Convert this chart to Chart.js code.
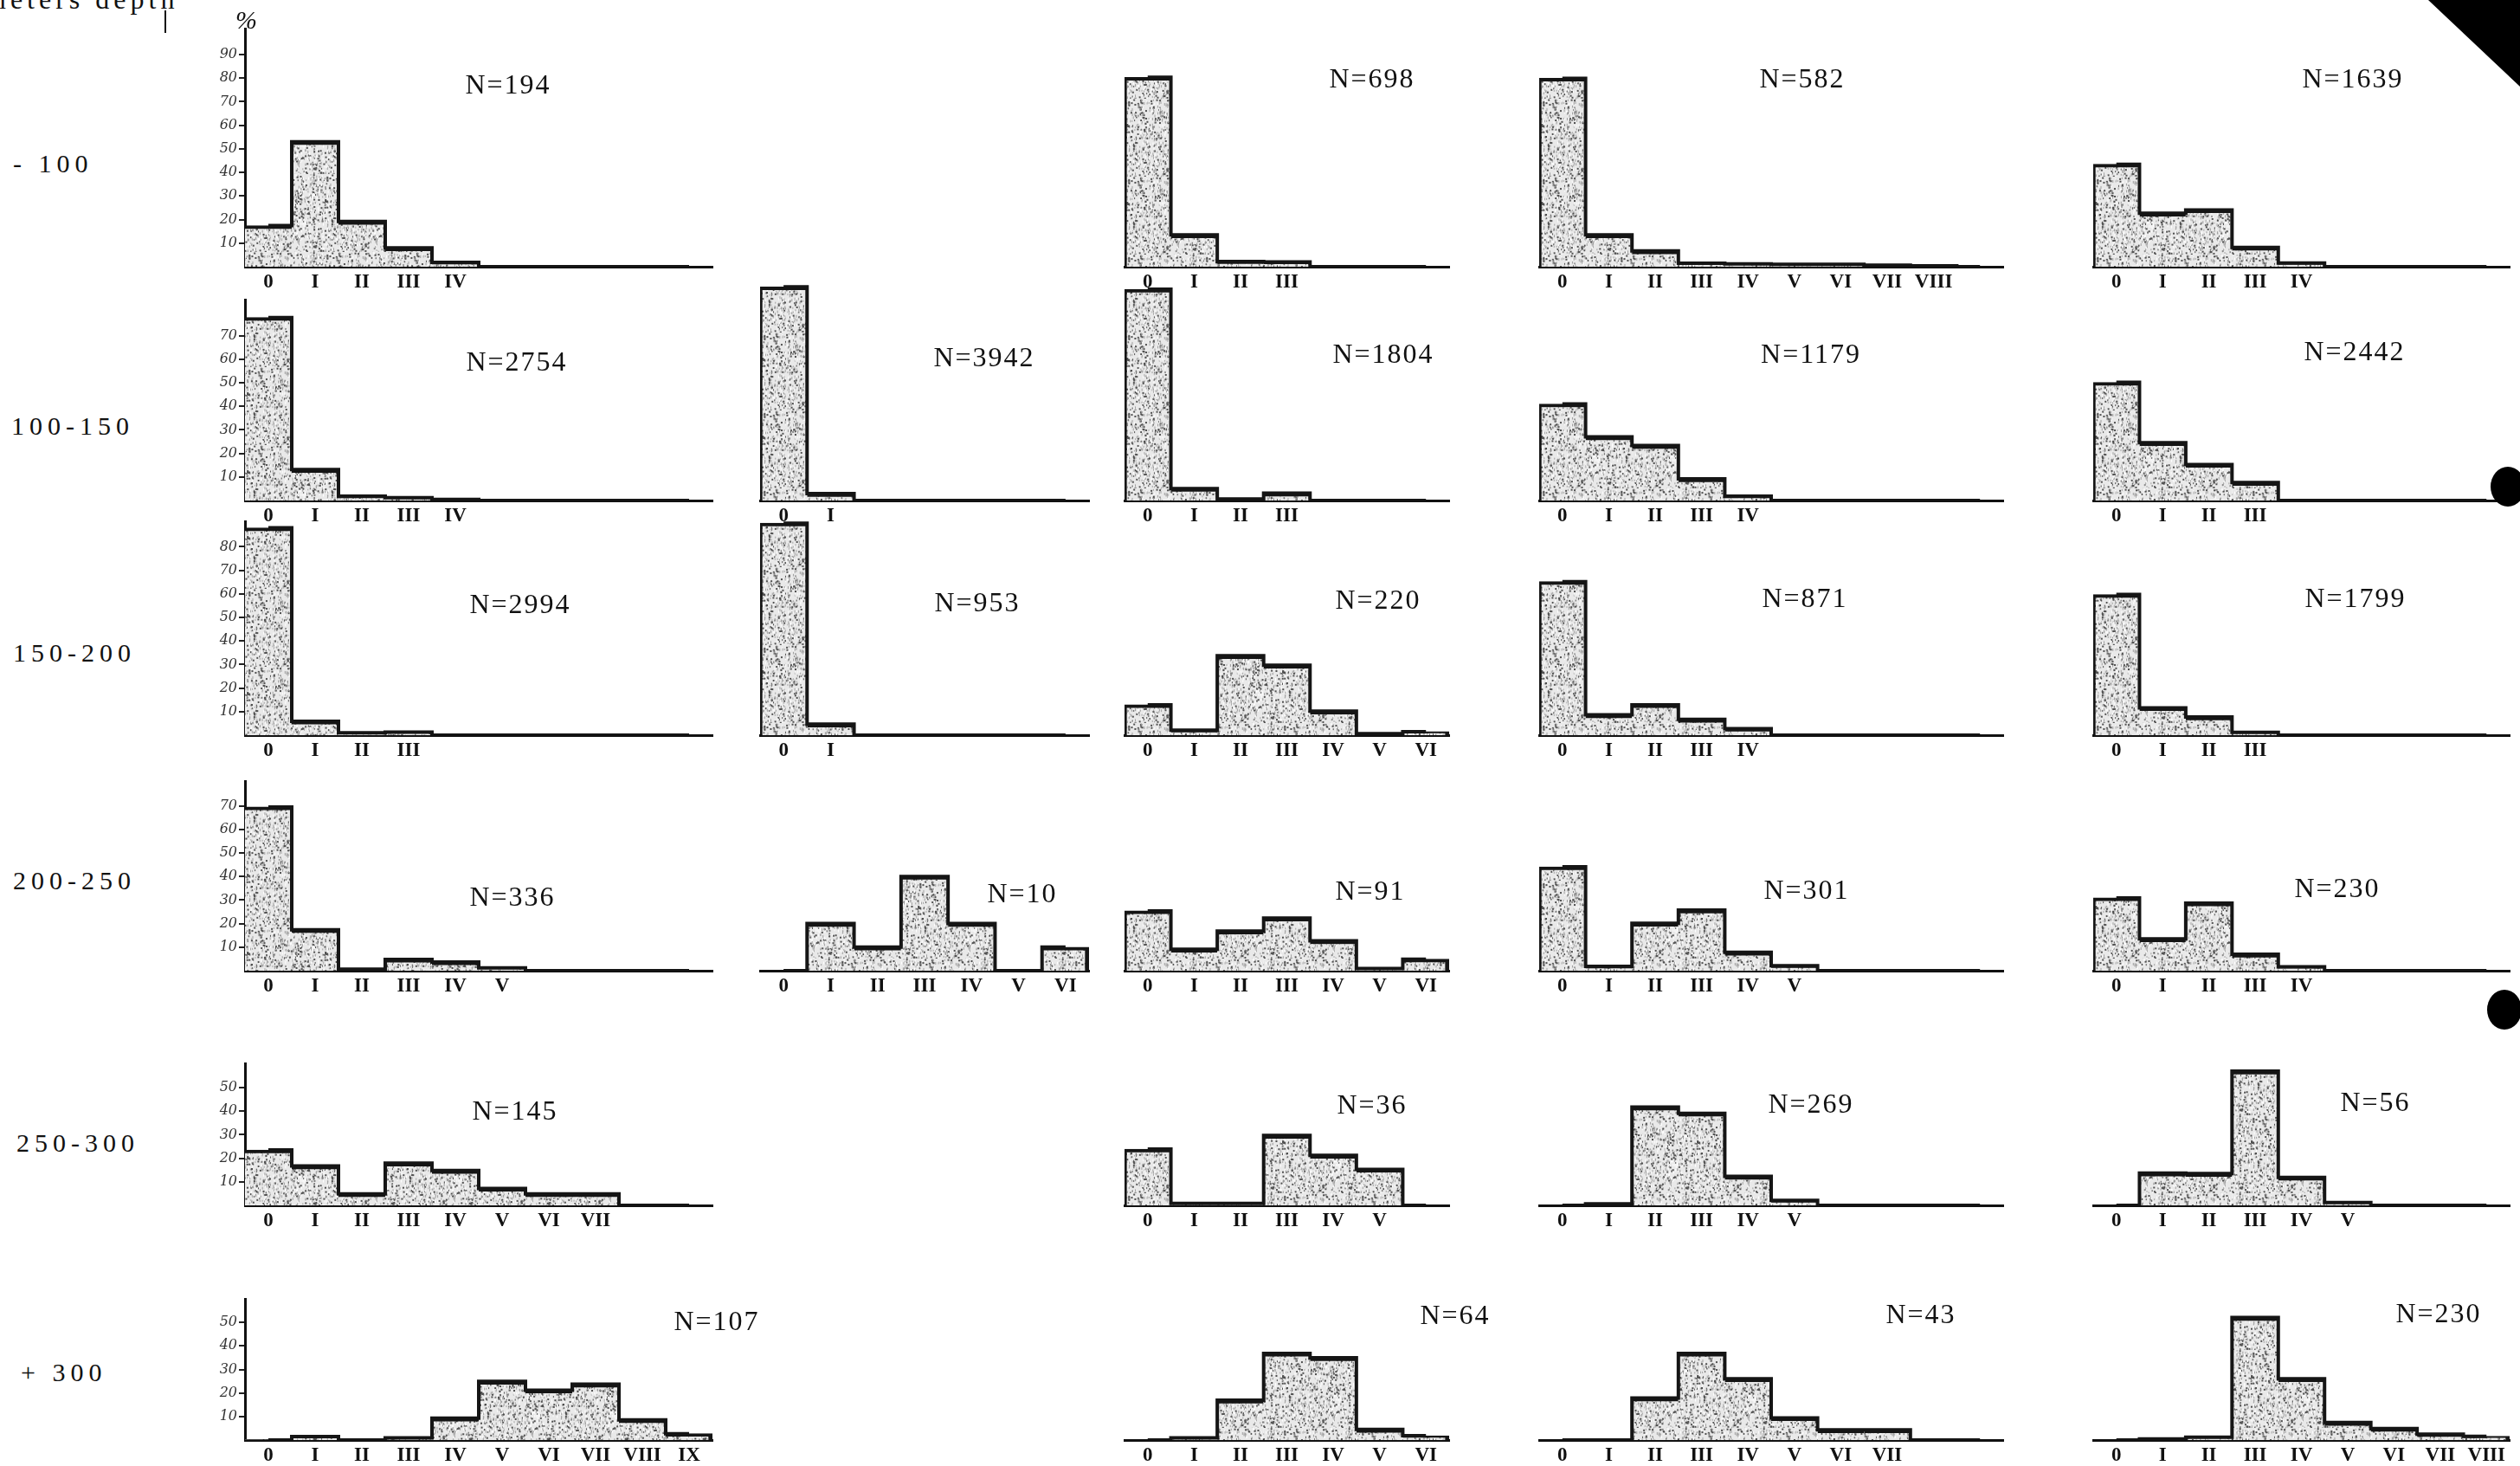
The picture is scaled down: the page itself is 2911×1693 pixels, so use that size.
<!DOCTYPE html>
<html>
<head>
<meta charset="utf-8">
<script src="https://cdn.jsdelivr.net/npm/chart.js"></script>
<style>
html, body { margin: 0; padding: 0; background: #fff; }
#page { position: relative; width: 2911px; height: 1693px; overflow: hidden; background: #fff; }
#page canvas { position: absolute; }
.lbl { position: absolute; font-family: 'Liberation Serif', serif; color: #111; white-space: nowrap; line-height: 1; }
.n { font-size: 32px; letter-spacing: 2px; transform: translate(-50%, -50%); }
.depth { font-size: 30px; letter-spacing: 6px; transform: translateY(-50%); }
</style>
</head>
<body>
<div id="page"></div>
<script>
// depth classes (rows) and age classes (x categories)
const depthLabels = ['- 100', '100-150', '150-200', '200-250', '250-300', '+ 300'];
const romanLabels = ['0', 'I', 'II', 'III', 'IV', 'V', 'VI', 'VII', 'VIII', 'IX'];
const yTickTops = [90, 80, 80, 70, 50, 50];

// percentages per age class, one array per panel
const d100_a = [17.4, 53.0, 19.2, 8.0, 1.8, 0, 0, 0, 0, 0];
const d100_c = [80.4, 13.5, 2.2, 2.0, 0, 0, 0];
const d100_d = [80.0, 13.5, 6.7, 1.5, 1.2, 1.0, 1.0, 0.6, 0.4, 0];
const d100_e = [43.5, 22.7, 24.1, 8.2, 1.6, 0, 0, 0, 0];

const d150_a = [77.7, 13.1, 1.8, 1.2, 0.5, 0, 0, 0, 0, 0];
const d150_b = [90.7, 2.9, 0, 0, 0, 0, 0];
const d150_c = [89.7, 5.1, 0.6, 3.1, 0, 0, 0];
const d150_d = [41.0, 27.0, 23.3, 9.2, 1.8, 0, 0, 0, 0, 0];
const d150_e = [50.2, 24.5, 15.3, 7.6, 0, 0, 0, 0, 0];

const d200_a = [88.0, 5.9, 1.0, 1.3, 0, 0, 0, 0, 0, 0];
const d200_b = [90.0, 4.7, 0, 0, 0, 0, 0];
const d200_c = [12.9, 2.1, 33.7, 29.7, 10.2, 0.6, 1.5];
const d200_d = [65.2, 8.6, 12.9, 6.7, 2.8, 0, 0, 0, 0, 0];
const d200_e = [59.7, 11.6, 7.7, 1.2, 0, 0, 0, 0, 0];

const d250_a = [69.5, 17.4, 0.6, 4.8, 3.7, 1.2, 0, 0, 0, 0];
const d250_b = [0, 20, 10, 40, 20, 0, 10];
const d250_c = [25.4, 9.1, 16.8, 22.3, 12.7, 0.9, 4.9];
const d250_d = [44.1, 1.8, 20.1, 25.7, 7.8, 2.1, 0, 0, 0, 0];
const d250_e = [30.9, 13.5, 28.7, 7.0, 1.7, 0, 0, 0, 0];

const d300_a = [23.5, 16.7, 4.9, 17.9, 14.8, 7.2, 4.9, 4.9, 0, 0];
const d300_c = [23.9, 0.8, 0.8, 29.7, 21.2, 15.3, 0];
const d300_d = [0, 0.6, 41.7, 39.1, 12.3, 2.1, 0, 0, 0, 0];
const d300_e = [0, 13.7, 13.5, 57.0, 11.9, 1.2, 0, 0, 0];

const d300p_a = [0, 1.5, 0, 0.9, 9.3, 24.9, 21.2, 23.7, 8.6, 2.7];
const d300p_c = [0, 0.9, 16.9, 36.8, 34.9, 4.5, 1.8];
const d300p_d = [0, 0, 17.8, 36.8, 26.0, 9.4, 4.3, 4.3, 0, 0];
const d300p_e = [0, 0.5, 1.2, 52.0, 26.0, 7.4, 4.9, 2.5, 1.6];

// sample sizes per panel (null = no panel)
const n100 = [194, null, 698, 582, 1639];
const n150 = [2754, 3942, 1804, 1179, 2442];
const n200 = [2994, 953, 220, 871, 1799];
const n250 = [336, 10, 91, 301, 230];
const n300 = [145, null, 36, 269, 56];
const n300p = [107, null, 64, 43, 230];

// how many age-class labels are printed under each panel
const s100 = [5, 0, 4, 9, 5];
const s150 = [5, 2, 4, 5, 4];
const s200 = [4, 2, 7, 5, 4];
const s250 = [6, 7, 7, 6, 5];
const s300 = [8, 0, 6, 6, 6];
const s300p = [10, 0, 7, 8, 9];

const rows = [
    { vals: [d100_a, null, d100_c, d100_d, d100_e], n: n100, shown: s100 },
    { vals: [d150_a, d150_b, d150_c, d150_d, d150_e], n: n150, shown: s150 },
    { vals: [d200_a, d200_b, d200_c, d200_d, d200_e], n: n200, shown: s200 },
    { vals: [d250_a, d250_b, d250_c, d250_d, d250_e], n: n250, shown: s250 },
    { vals: [d300_a, null, d300_c, d300_d, d300_e], n: n300, shown: s300 },
    { vals: [d300p_a, null, d300p_c, d300p_d, d300p_e], n: n300p, shown: s300p }
];

// ---- layout (page pixels) ----
const K = 2.72;                 // px per percent
const PAD_L = 60, PAD_R = 8, PAD_T = 12, PAD_B = 40;
const colX0 = [283, 878, 1299, 1778, 2418];
const colSlot = [54, 54.3, 53.5, 53.6, 53.4];
const colSlots = [10, 7, 7, 10, 9];
const rowBase = [308, 578, 849, 1121, 1392, 1663];
const axisMax = [101, 85.3, 90.8, 80.5, 60.3, 60];
const nPos = [
    [[587, 97], null, [1585, 90], [2082, 90], [2718, 90]],
    [[597, 417], [1137, 412], [1598, 408], [2092, 408], [2720, 405]],
    [[601, 697], [1129, 695], [1592, 692], [2085, 690], [2721, 690]],
    [[592, 1035], [1181, 1031], [1583, 1028], [2087, 1027], [2700, 1025]],
    [[595, 1282], null, [1585, 1275], [2092, 1274], [2744, 1272]],
    [[828, 1525], null, [1681, 1518], [2219, 1517], [2817, 1516]]
];
const depthPos = [[15, 189], [13, 492], [15, 754], [15, 1017], [19, 1320], [24, 1585]];

const page = document.getElementById('page');
const ink = '#151515';

// speckled grey fill like the printed stipple
function stipple() {
    const p = document.createElement('canvas');
    p.width = p.height = 90;
    const g = p.getContext('2d');
    g.fillStyle = '#e9e9e9';
    g.fillRect(0, 0, 90, 90);
    let s = 11;
    const next = () => (s = (s * 16807) % 2147483647) / 2147483647;
    for (let i = 0; i < 1100; i++) {
        const x = next() * 90, y = next() * 90, t = next();
        g.fillStyle = t < 0.35 ? '#505050' : (t < 0.75 ? '#a0a0a0' : '#ffffff');
        g.fillRect(x, y, t < 0.2 ? 2 : 1, t > 0.6 ? 3 : 2);
    }
    return g.createPattern(p, 'repeat');
}
const fill = stipple();

function makePanel(r, c) {
    const vals = rows[r].vals[c];
    if (!vals) return;
    const isAxis = c === 0;
    const slots = colSlots[c];
    const shown = rows[r].shown[c];
    const ymax = isAxis ? axisMax[r] : 100;
    const plotW = Math.round(slots * colSlot[c]);
    const top = Math.round(rowBase[r] - ymax * K - PAD_T);
    const cv = document.createElement('canvas');
    cv.width = PAD_L + plotW + PAD_R;
    cv.height = rowBase[r] - top + PAD_B;
    cv.style.left = (colX0[c] - PAD_L) + 'px';
    cv.style.top = top + 'px';
    page.appendChild(cv);

    const yScale = isAxis ? {
        display: true, min: 0, max: ymax,
        grid: { display: true, drawOnChartArea: false, drawTicks: true, tickLength: 7, color: '#222', lineWidth: 2 },
        border: { display: true, color: '#111', width: 3 },
        ticks: { stepSize: 10, padding: 2, color: '#333', font: { family: 'DejaVu Serif', size: 16, style: 'italic' } },
        afterBuildTicks: s => { s.ticks = s.ticks.filter(t => t.value > 0 && t.value <= yTickTops[r]); },
        afterFit: s => { s.width = PAD_L; }
    } : { display: false, min: 0, max: ymax };

    const last = vals.length - 1;
    new Chart(cv, {
        data: {
            labels: romanLabels.slice(0, slots),
            datasets: [{
                type: 'line',
                order: 0,
                data: vals,
                stepped: 'middle',
                borderColor: ink,
                borderWidth: 4,
                pointRadius: 0,
                fill: false
            }, {
                type: 'bar',
                order: 1,
                data: vals,
                backgroundColor: fill,
                borderColor: ink,
                borderWidth: ctx => ({
                    top: 4,
                    left: ctx.dataIndex === 0 && !isAxis ? 3 : 0,
                    right: ctx.dataIndex === last ? 5 : 0,
                    bottom: 0
                }),
                categoryPercentage: 1,
                barPercentage: 1
            }]
        },
        options: {
            responsive: false,
            animation: false,
            events: [],
            layout: { padding: { left: isAxis ? 0 : PAD_L, right: PAD_R, top: PAD_T, bottom: 0 } },
            plugins: { legend: { display: false }, tooltip: { enabled: false } },
            scales: {
                x: {
                    grid: { display: false, drawTicks: false },
                    border: { display: true, color: '#111', width: 3 },
                    ticks: {
                        autoSkip: false, maxRotation: 0, padding: 4, color: '#111',
                        font: { family: 'Liberation Serif', size: 23, weight: 'bold' },
                        callback: (v, i) => i < shown ? romanLabels[i] : ''
                    },
                    afterFit: s => { s.height = PAD_B; }
                },
                y: yScale
            }
        }
    });
}

function addText(cls, text, x, y, extra) {
    const d = document.createElement('div');
    d.className = 'lbl ' + cls;
    d.textContent = text;
    d.style.left = x + 'px';
    d.style.top = y + 'px';
    if (extra) Object.assign(d.style, extra);
    page.appendChild(d);
}

for (let r = 0; r < rows.length; r++) {
    for (let c = 0; c < 5; c++) makePanel(r, c);
}
for (let r = 0; r < rows.length; r++) {
    addText('depth', depthLabels[r], depthPos[r][0], depthPos[r][1]);
    for (let c = 0; c < 5; c++) {
        const n = rows[r].n[c];
        if (n !== null) addText('n', 'N=' + n, nPos[r][c][0], nPos[r][c][1]);
    }
}
addText('', 'meters depth', -18, -17, { fontSize: '32px', letterSpacing: '5px' });
addText('', '%', 272, 8, { fontSize: '30px', fontStyle: 'italic' });

// header tick and scan marks at the right edge
const tick = document.createElement('div');
Object.assign(tick.style, { position: 'absolute', left: '190px', top: '12px', width: '2px', height: '26px', background: '#111' });
page.appendChild(tick);
const wedge = document.createElement('div');
Object.assign(wedge.style, { position: 'absolute', left: '2805px', top: '0px', width: '106px', height: '100px', background: '#000', clipPath: 'polygon(0 0, 100% 0, 100% 100%)' });
page.appendChild(wedge);
[[2897, 562], [2893, 1166]].forEach(p => {
    const dot = document.createElement('div');
    Object.assign(dot.style, { position: 'absolute', left: (p[0] - 20) + 'px', top: (p[1] - 23) + 'px', width: '40px', height: '46px', borderRadius: '50%', background: '#000' });
    page.appendChild(dot);
});
</script>
</body>
</html>
